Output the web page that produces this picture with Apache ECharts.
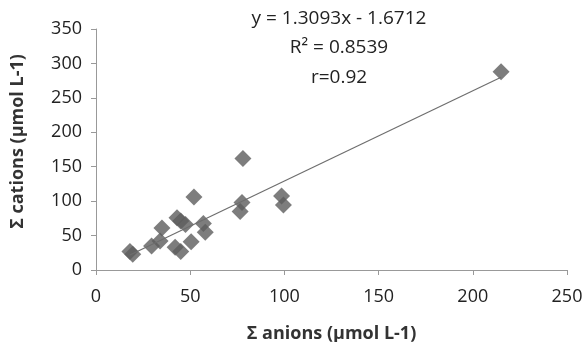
<!DOCTYPE html>
<html>
<head>
<meta charset="utf-8">
<script src="https://cdn.jsdelivr.net/npm/echarts@6/dist/echarts.min.js"></script>
<style>
  html, body { margin: 0; padding: 0; background: #fff; }
  #chart { width: 583px; height: 342px; }
</style>
</head>
<body>
<div id="chart"></div>
<script>
// sum of anions (x) and sum of cations (y), µmol L-1
var anions  = [18, 19.5, 29.5, 34, 35, 43, 45, 47.5, 42, 45, 50.5, 52, 57, 58, 78, 77.5, 76.5, 98.5, 99.5, 215];
var cations = [27, 23, 35, 42, 61, 76, 71, 66, 33, 27, 41, 106, 67.5, 55, 162, 98, 85, 107.5, 94.5, 288];
var slope = 1.3093;
var intercept = -1.6712;
var eqLines = ['y = 1.3093x - 1.6712', 'R² = 0.8539', 'r=0.92'];

var points = anions.map(function (a, i) { return [a, cations[i]]; });
var xMin = Math.min.apply(null, anions);
var xMax = Math.max.apply(null, anions);
var trend = [[xMin, slope * xMin + intercept], [xMax, slope * xMax + intercept]];

var font = '"Open Sans", "DejaVu Sans", sans-serif';
var eqY = [19, 48, 78];
var chart = echarts.init(document.getElementById('chart'));
chart.setOption({
    animation: false,
    grid: { left: 96, right: 16, top: 29, bottom: 72, containLabel: false, outerBoundsMode: 'none' },
    xAxis: {
        type: 'value',
        min: 0, max: 250, interval: 50,
        name: 'Σ anions (μmol L-1)',
        nameLocation: 'middle',
        nameGap: 55,
        nameTextStyle: { fontFamily: font, fontSize: 18, fontWeight: 'bold', color: '#333' },
        axisLine: { lineStyle: { color: '#999' } },
        axisTick: { show: true, length: 5, lineStyle: { color: '#999' } },
        axisLabel: { fontFamily: font, fontSize: 18, color: '#222', margin: 18 },
        splitLine: { show: false }
    },
    yAxis: {
        type: 'value',
        min: 0, max: 350, interval: 50,
        name: 'Σ cations (μmol L-1)',
        nameLocation: 'middle',
        nameGap: 69,
        nameTextStyle: { fontFamily: font, fontSize: 18, fontWeight: 'bold', color: '#333', padding: [0, 0, 0, 16] },
        axisLine: { show: true, lineStyle: { color: '#999' } },
        axisTick: { show: true, length: 5, lineStyle: { color: '#999' } },
        axisLabel: { fontFamily: font, fontSize: 18, color: '#222', margin: 14 },
        splitLine: { show: false }
    },
    series: [
        {
            type: 'line',
            data: trend,
            symbol: 'none',
            lineStyle: { color: '#6e6e6e', width: 1.2 },
            z: 3
        },
        {
            type: 'scatter',
            data: points,
            symbol: 'diamond',
            symbolSize: 17,
            itemStyle: { color: '#5c5c5c' },
            z: 2
        }
    ],
    graphic: eqLines.map(function (t, i) {
        return {
            type: 'text',
            x: 339, y: eqY[i],
            style: {
                text: t,
                align: 'center',
                verticalAlign: 'middle',
                fontFamily: font,
                fontSize: 19,
                fill: '#222'
            }
        };
    })
});
</script>
</body>
</html>
